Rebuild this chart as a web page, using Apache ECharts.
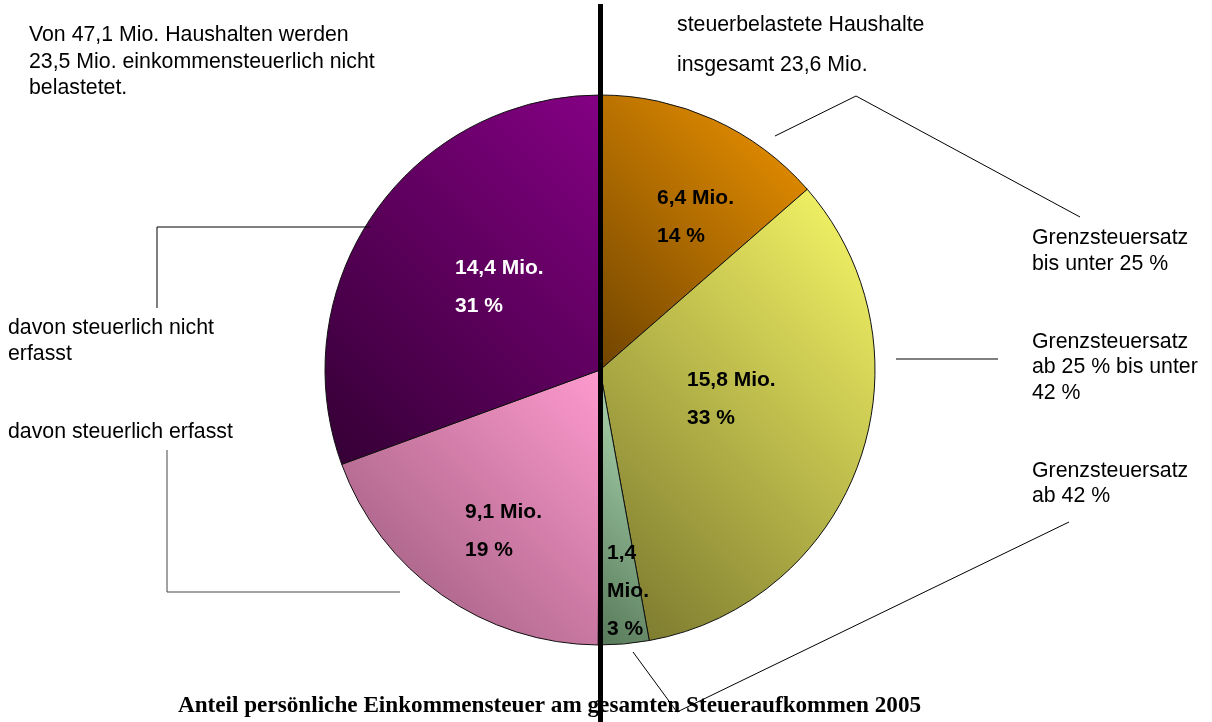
<!DOCTYPE html>
<html>
<head>
<meta charset="utf-8">
<script src="https://cdn.jsdelivr.net/npm/echarts@6/dist/echarts.min.js"></script>
<style>
html,body{margin:0;padding:0;background:#fff;}
#chart{width:1212px;height:722px;}
</style>
</head>
<body>
<div id="chart"></div>
<script>
// ---- data ----
const categories = [
  'Grenzsteuersatz bis unter 25 %',
  'Grenzsteuersatz ab 25 % bis unter 42 %',
  'Grenzsteuersatz ab 42 %',
  'davon steuerlich erfasst',
  'davon steuerlich nicht erfasst'
];
const householdsMio = [6.4, 15.8, 1.4, 9.1, 14.4];
const titleText = 'Anteil persönliche Einkommensteuer am gesamten Steueraufkommen 2005';
const noteLeft = 'Von 47,1 Mio. Haushalten werden\n23,5 Mio. einkommensteuerlich nicht\nbelastetet.';
const noteRight = 'steuerbelastete Haushalte\ninsgesamt 23,6 Mio.';

// ---- styles ----
const gradients = [
  ['#f39600', '#704400'],
  ['#fafa68', '#76742c'],
  ['#b8e4bc', '#567858'],
  ['#fe9ace', '#965878'],
  ['#840084', '#340034']
];
const labelColors = ['#000', '#000', '#000', '#000', '#fff'];
const labelPos = [[657, 217.5], [687, 399], [607, 591], [465, 531], [455, 287.5]];
const FONT = '"Liberation Sans", Arial, sans-serif';
const CX = 600, CY = 370, R = 275;

// diagonal (top-right light -> bottom-left dark) gradient over each slice's bounding box
function sliceGradient(i) {
  const total = householdsMio.reduce((a, b) => a + b, 0);
  let before = 0;
  for (let k = 0; k < i; k++) before += householdsMio[k];
  const t0 = before / total * Math.PI * 2;
  const t1 = (before + householdsMio[i]) / total * Math.PI * 2;
  const pts = [[CX, CY]];
  const pt = t => [CX + R * Math.sin(t), CY - R * Math.cos(t)];
  pts.push(pt(t0), pt(t1));
  for (let q = 0; q <= 4; q++) {
    const t = q * Math.PI / 2;
    if (t > t0 && t < t1) pts.push(pt(t));
  }
  const xs = pts.map(p => p[0]), ys = pts.map(p => p[1]);
  const x0 = Math.min(...xs), x1 = Math.max(...xs), y0 = Math.min(...ys), y1 = Math.max(...ys);
  const s = ((x1 - x0) + (y1 - y0)) / 2;
  return new echarts.graphic.LinearGradient(x1, y0, x1 - s, y0 + s, [
    {offset: 0, color: gradients[i][0]},
    {offset: 1, color: gradients[i][1]}
  ], true);
}

const chart = echarts.init(document.getElementById('chart'), null, {renderer: 'canvas'});

const data = householdsMio.map((v, i) => ({
  name: categories[i],
  value: v,
  itemStyle: {color: sliceGradient(i)},
  label: Object.assign({color: labelColors[i]}, i === 2 ? {width: 44, overflow: 'break'} : {})
}));

function textEl(text, x, y, opts) {
  return {
    type: 'text', z: 100,
    style: Object.assign({
      text: text, x: x, y: y, fill: '#000',
      font: '21.3px ' + FONT, lineHeight: 26,
      align: 'left', verticalAlign: 'top'
    }, opts || {})
  };
}
function poly(points, color) {
  return {
    type: 'polyline', z: 100,
    shape: {points: points},
    style: {stroke: color || '#000', lineWidth: 1, fill: null}
  };
}

chart.setOption({
  animation: false,
  backgroundColor: '#fff',
  series: [{
    type: 'pie',
    center: [CX, CY],
    radius: R,
    startAngle: 90,
    clockwise: true,
    percentPrecision: 0,
    avoidLabelOverlap: false,
    data: data,
    itemStyle: {borderColor: '#111', borderWidth: 1},
    emphasis: {disabled: true},
    label: {
      show: true,
      position: 'inside',
      fontFamily: FONT,
      fontWeight: 'bold',
      fontSize: 21,
      lineHeight: 38,
      formatter: function (p) {
        return p.value.toFixed(1).replace('.', ',') + ' Mio.\n' + Math.round(p.percent) + ' %';
      }
    },
    labelLine: {show: false},
    labelLayout: function (p) {
      const pos = labelPos[p.dataIndex];
      return {x: pos[0], y: pos[1], align: 'left', verticalAlign: 'middle'};
    }
  }],
  graphic: [
    {
      type: 'text', z: 50,
      style: {
        text: titleText, x: 549.5, y: 706, fill: '#000',
        font: 'bold 23.2px "Liberation Serif", "Times New Roman", serif',
        align: 'center', verticalAlign: 'middle'
      }
    },
    textEl(noteLeft, 29, 22, {lineHeight: 26.5}),
    textEl(noteRight, 677, 5, {lineHeight: 40}),
    textEl('Grenzsteuersatz\nbis unter 25 %', 1032, 225, {lineHeight: 26}),
    textEl('Grenzsteuersatz\nab 25 % bis unter\n42 %', 1032, 329, {lineHeight: 25.5}),
    textEl('Grenzsteuersatz\nab 42 %', 1032, 458.5, {lineHeight: 25}),
    textEl('davon steuerlich nicht\nerfasst', 8, 315, {lineHeight: 26}),
    textEl('davon steuerlich erfasst', 8, 419, {lineHeight: 26}),
    poly([[157, 308], [157, 227], [370, 227]]),
    poly([[167, 450], [167, 592], [400, 592]], '#444'),
    poly([[775, 136], [856, 96], [1080, 217]]),
    poly([[896, 359], [998, 359]]),
    poly([[633, 652], [677, 712], [1069, 522]]),
    {
      type: 'line', z: 110,
      shape: {x1: 600.5, y1: 4, x2: 600.5, y2: 722},
      style: {stroke: '#000', lineWidth: 5}
    }
  ]
});
</script>
</body>
</html>
